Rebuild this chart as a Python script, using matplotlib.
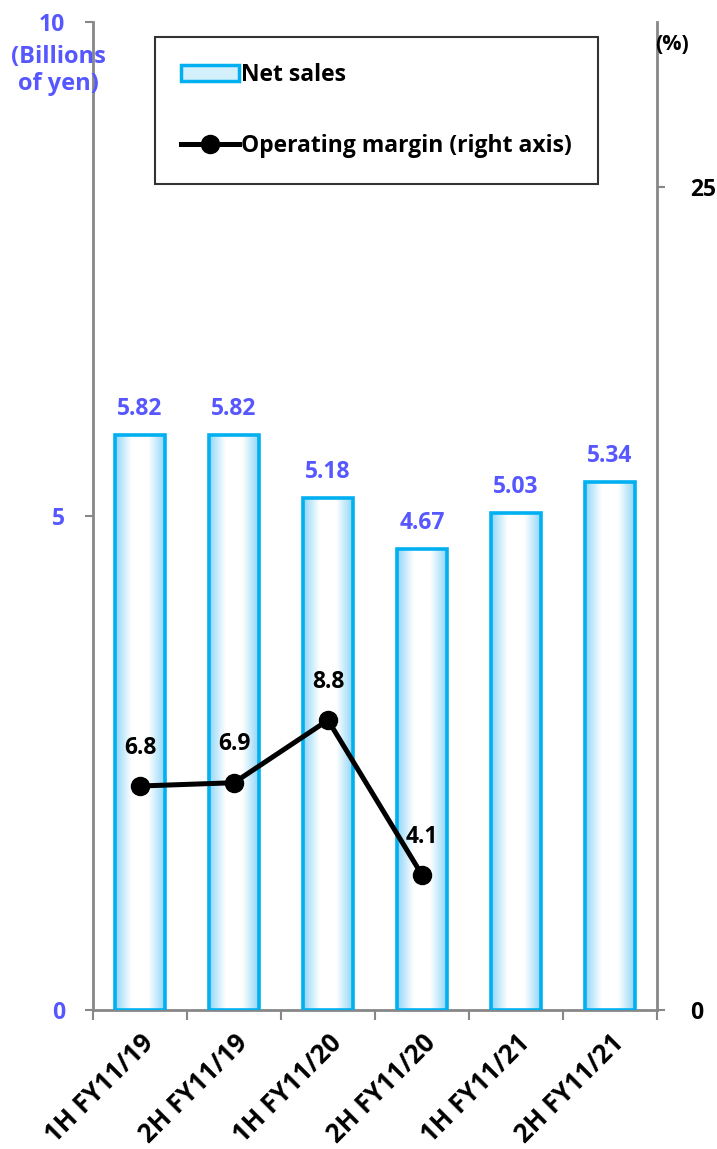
import numpy as np
import matplotlib.pyplot as plt
from matplotlib.patches import Patch
from matplotlib.lines import Line2D
from matplotlib.colors import LinearSegmentedColormap

plt.rcParams['font.family'] = ['Open Sans', 'DejaVu Sans']
plt.rcParams['font.weight'] = 'bold'

periods = ['1H FY11/19', '2H FY11/19', '1H FY11/20', '2H FY11/20', '1H FY11/21', '2H FY11/21']
net_sales = [5.82, 5.82, 5.18, 4.67, 5.03, 5.34]
margin = [6.8, 6.9, 8.8, 4.1]

blue_txt = '#5757FF'
edge = '#00B0F0'
grey = '#878787'
fs = 16.5

fig = plt.figure(figsize=(7.17, 11.49), dpi=100)
ax = fig.add_axes([0.1297, 0.1210, 0.7866, 0.8599])
ax2 = ax.twinx()

x = np.arange(len(periods))
bw = 0.53
bars = ax.bar(x, net_sales, width=bw, facecolor='none', edgecolor=edge, linewidth=2.6, zorder=3)

# horizontal gradient inside each bar
cmap = LinearSegmentedColormap.from_list('bar', ['#8FD6F7', '#FFFFFF', '#FFFFFF', '#8FD6F7'], N=256)
grad = np.linspace(0, 1, 256).reshape(1, -1)
for b in bars:
    x0, w, h = b.get_x(), b.get_width(), b.get_height()
    im = ax.imshow(grad, cmap=cmap, aspect='auto', extent=(x0, x0 + w, 0, h), zorder=2)
    im.set_clip_path(b)

for xi, v in zip(x, net_sales):
    ax.annotate(f'{v:.2f}', (xi, v), xytext=(0, 10), textcoords='offset points',
                ha='center', va='bottom', color=blue_txt, fontsize=fs, fontweight='bold')

ax.set_xlim(-0.5, len(periods) - 0.5)
ax.set_ylim(0, 10)
ax.set_yticks([0, 5, 10])
ax.set_yticklabels(['0', '5', '10'])
ax.tick_params(axis='y', colors=grey, labelcolor=blue_txt, labelsize=fs, length=6, width=1.5, pad=14)

ax.set_xticks(x)
ax.set_xticklabels(periods, rotation=45, ha='right', rotation_mode='anchor', fontsize=18.5, fontweight='bold')
ax.set_xticks(np.arange(-0.5, len(periods)), minor=True)
ax.tick_params(axis='x', which='major', length=0, pad=14)
ax.tick_params(axis='x', which='minor', length=7, width=1.5, colors=grey)

ax2.set_ylim(0, 30)
ax2.set_yticks([0, 25])
ax2.set_yticklabels(['0', '25'])
ax2.tick_params(axis='y', colors=grey, labelcolor='black', labelsize=fs, length=6, width=1.5, pad=18)

for a in (ax, ax2):
    a.spines['top'].set_visible(False)
    for s in ('left', 'right', 'bottom'):
        a.spines[s].set_color(grey)
        a.spines[s].set_linewidth(2)
ax.spines['right'].set_visible(False)
ax2.spines['left'].set_visible(False)
ax2.spines['bottom'].set_visible(False)

ax2.plot(x[:len(margin)], margin, color='black', linewidth=3.6, marker='o', markersize=13, zorder=5)
for xi, v in zip(x, margin):
    ax2.annotate(f'{v:.1f}', (xi, v), xytext=(0, 19), textcoords='offset points',
                 ha='center', va='bottom', color='black', fontsize=fs, fontweight='bold')

fig.text(0.082, 0.961, '(Billions\nof yen)', ha='center', va='top', color=blue_txt,
         fontsize=fs + 0.5, fontweight='bold', linespacing=1.2)
fig.text(0.937, 0.961, '(%)', ha='center', va='center', color='black', fontsize=fs - 1, fontweight='bold')

handles = [Patch(facecolor='#D4F0FC', edgecolor=edge, linewidth=2.5),
           Line2D([0], [0], color='black', linewidth=3.6, marker='o', markersize=13)]
leg = ax.legend(handles, ['Net sales', 'Operating margin (right axis)'],
                loc='upper left', bbox_to_anchor=(0.11, 0.985), borderaxespad=0,
                frameon=True, fancybox=False,
                edgecolor='black', handlelength=2.5, handletextpad=0.1,
                labelspacing=2.05, borderpad=1.15, prop={'weight': 'bold', 'size': fs})
leg.get_frame().set_linewidth(1.5)

fig.savefig('out.png', dpi=100)
